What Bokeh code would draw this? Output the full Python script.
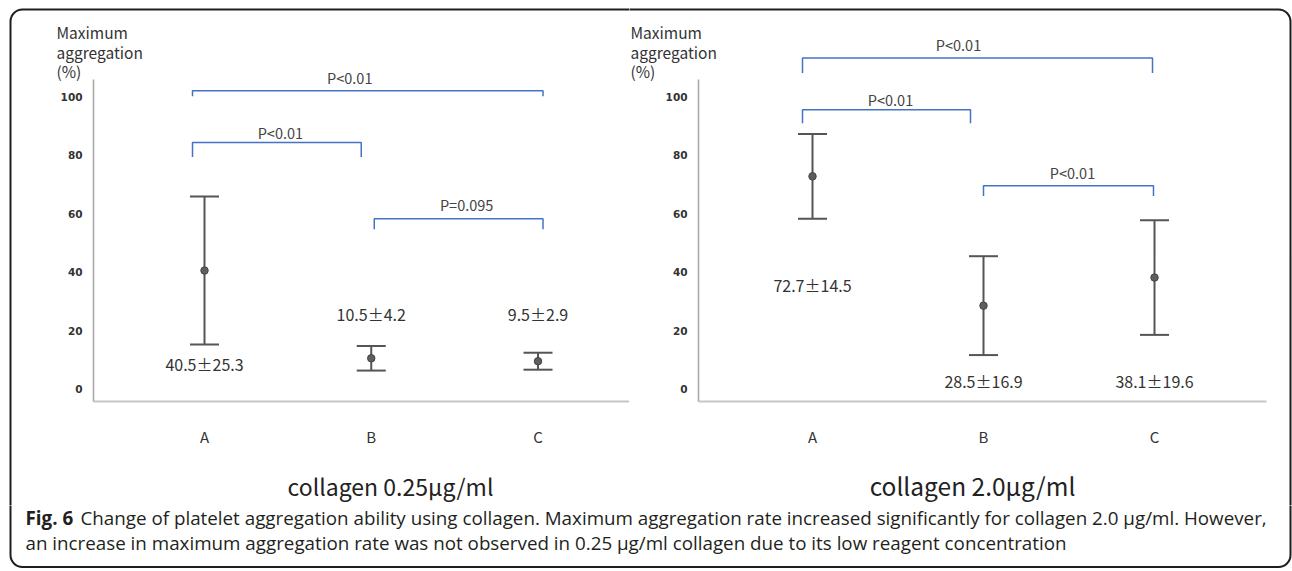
from bokeh.plotting import figure
from bokeh.layouts import column, row
from bokeh.models import (Range1d, FixedTicker, Label, Whisker, TeeHead,
                          ColumnDataSource, BoxAnnotation)
from bokeh.embed import file_html
from bokeh.resources import INLINE
from bokeh.core.properties import value

# ---------------- data ----------------
categories = ["A", "B", "C"]
low_means = [40.5, 10.5, 9.5]          # collagen 0.25 ug/ml
low_sds = [25.3, 4.2, 2.9]
high_means = [72.7, 28.5, 38.1]        # collagen 2.0 ug/ml
high_sds = [14.5, 16.9, 19.6]
y_ticks = [0, 20, 40, 60, 80, 100]
y_title_lines = ["Maximum", "aggregation", "(%)"]
low_title = "collagen 0.25μg/ml"
high_title = "collagen 2.0μg/ml"
low_pairs = [("A", "C"), ("A", "B"), ("B", "C")]
low_pvalues = ["P<0.01", "P<0.01", "P=0.095"]
low_bracket_levels = [102.0, 84.3, 58.2]
high_pairs = [("A", "C"), ("A", "B"), ("B", "C")]
high_pvalues = ["P<0.01", "P<0.01", "P<0.01"]
high_bracket_levels = [113.2, 95.5, 69.5]
low_value_label_y = [8.7, 25.8, 25.8]
high_value_label_y = [35.6, 2.9, 2.9]
caption_bold = "Fig. 6"
caption_lines = [
    "Change of platelet aggregation ability using collagen. Maximum aggregation rate increased significantly for collagen 2.0 μg/ml. However,",
    "an increase in maximum aggregation rate was not observed in 0.25 μg/ml collagen due to its low reagent concentration",
]

# ---------------- layout / style ----------------
FONT = "Noto Sans CJK JP"
PX_PER_UNIT = 2.925
ZERO_PX = 388.5
AXIS_TOP, AXIS_BOTTOM = 79, 401
PANEL_H = 505
BORDER_COLOR = "#1e1e1e"
BAR_COLOR = "#555555"
BRACKET_COLOR = "#4472C4"

low_spec = dict(canvas_left=0, canvas_w=629, frame_left=93, frame_right=633, first_px=204,
                spacing=166.75,
                drops=[5.5, 14.5, 10.4], end_off=[(-12, 5), (-12, -10), (3, 5)],
                lab_dx=[-18, 3.5, 8], lab_dy=[13, 10.3, 14],
                ytitle_px=56, sub_px=390, sub_size="23px", border=(10, 3000))
high_spec = dict(canvas_left=629, canvas_w=663, frame_left=698, frame_right=1266, first_px=812,
                 spacing=171,
                 drops=[15, 13.7, 10.4], end_off=[(-10, -2), (-10, -13), (0, -1)],
                 lab_dx=[-19, 4, 4], lab_dy=[13.2, 10.6, 13.3],
                 ytitle_px=630, sub_px=972, sub_size="24.5px", border=(-2000, 1290))


def make_panel(means, sds, pairs, pvalues, levels, label_y, title, s):
    cl, cw, fl, fr, sp = s["canvas_left"], s["canvas_w"], s["frame_left"], s["frame_right"], s["spacing"]

    def xd(px):  # page pixel -> category axis value
        return 1 + (px - s["first_px"]) / sp

    def yd(py):  # page pixel -> aggregation value
        return (ZERO_PX - py) / PX_PER_UNIT

    p = figure(width=cw, height=PANEL_H,
               x_range=Range1d(xd(cl), xd(cl + cw)),
               y_range=Range1d(yd(PANEL_H), yd(0)),
               output_backend="svg", toolbar_location=None, min_border=0)
    p.title.visible = False
    p.grid.visible = False
    p.outline_line_color = None
    p.background_fill_color = "white"
    p.border_fill_color = "white"

    xpos = [i + 1 for i in range(len(categories))]

    # y axis (fixed inside the frame)
    ya = p.yaxis[0]
    ya.fixed_location = xd(fl)
    ya.ticker = FixedTicker(ticks=y_ticks)
    ya.bounds = (yd(AXIS_BOTTOM), yd(AXIS_TOP))
    ya.axis_line_color = "#a9a9a9"
    ya.axis_line_width = 1.6
    ya.major_tick_line_color = None
    ya.minor_tick_line_color = None
    ya.major_label_text_font = "DejaVu Sans"
    ya.major_label_text_font_style = "bold"
    ya.major_label_text_font_size = "10.5px"
    ya.major_label_text_color = "#333333"
    ya.major_label_standoff = 5

    # x axis (fixed inside the frame)
    xa = p.xaxis[0]
    xa.fixed_location = yd(AXIS_BOTTOM)
    xa.bounds = (xd(fl), xd(fr))
    xa.ticker = FixedTicker(ticks=xpos)
    xa.major_label_overrides = {x: c for x, c in zip(xpos, categories)}
    xa.axis_line_color = "#c6c6c6"
    xa.axis_line_width = 2
    xa.major_tick_line_color = None
    xa.minor_tick_line_color = None
    xa.major_label_text_font = FONT
    xa.major_label_text_font_size = "15px"
    xa.major_label_text_color = "#333333"
    xa.major_label_standoff = 18

    # error bars
    src = ColumnDataSource(dict(
        x=xpos, mean=means,
        upper=[m + d for m, d in zip(means, sds)],
        lower=[m - d for m, d in zip(means, sds)],
    ))
    w = Whisker(source=src, base="x", upper="upper", lower="lower",
                line_color=BAR_COLOR, line_width=2,
                upper_head=TeeHead(size=29, line_color=BAR_COLOR, line_width=2),
                lower_head=TeeHead(size=29, line_color=BAR_COLOR, line_width=2))
    p.add_layout(w)
    p.scatter("x", "mean", source=src, size=7.5, fill_color="#5e5e5e", line_color="#444444", line_width=1)

    # value labels
    p.text(x=xpos, y=label_y, text=[f"{m}±{d}" for m, d in zip(means, sds)],
           text_font=value(FONT), text_font_size="16px", text_color="#333333",
           text_align="center", text_baseline="middle")

    # significance brackets
    bxs, bys, lx, ly = [], [], [], []
    for (a, b), lev, drop, (oa, ob), dx, dy in zip(pairs, levels, s["drops"], s["end_off"],
                                                   s["lab_dx"], s["lab_dy"]):
        x0 = xpos[categories.index(a)] + oa / sp
        x1 = xpos[categories.index(b)] + ob / sp
        low = lev - drop / PX_PER_UNIT
        bxs.append([x0, x0, x1, x1])
        bys.append([low, lev, lev, low])
        lx.append((x0 + x1) / 2 + dx / sp)
        ly.append(lev + dy / PX_PER_UNIT)
    p.multi_line(xs=bxs, ys=bys, line_color=BRACKET_COLOR, line_width=1.5)
    p.text(x=lx, y=ly, text=pvalues, text_font=value(FONT), text_font_size="14.5px",
           text_color="#444444", text_align="center", text_baseline="middle")

    # y axis title (three lines)
    for py, line in zip([31, 51, 70], y_title_lines):
        p.add_layout(Label(x=xd(s["ytitle_px"]), y=yd(py), text=line,
                           text_font=FONT, text_font_size="15.5px", text_color="#333333",
                           text_align="left", text_baseline="middle"))

    # panel subtitle
    p.add_layout(Label(x=xd(s["sub_px"]), y=yd(485), text=title, text_font=FONT,
                       text_font_size=s["sub_size"], text_color="#222222",
                       text_align="center", text_baseline="middle"))

    # outer rounded frame (upper part)
    bl, br = s["border"]
    p.add_layout(BoxAnnotation(left=xd(bl), right=xd(br), top=yd(9), bottom=yd(3000),
                               fill_alpha=0, line_color=BORDER_COLOR, line_alpha=1, line_width=2,
                               border_radius=12, level="overlay"))
    return p


p1 = make_panel(low_means, low_sds, low_pairs, low_pvalues, low_bracket_levels,
                low_value_label_y, low_title, low_spec)
p2 = make_panel(high_means, high_sds, high_pairs, high_pvalues, high_bracket_levels,
                high_value_label_y, high_title, high_spec)

# caption strip
p3 = figure(width=1292, height=571 - PANEL_H, x_range=Range1d(0, 1292), y_range=Range1d(571, PANEL_H),
            output_backend="svg", toolbar_location=None, min_border=0,
            x_axis_type=None, y_axis_type=None)
p3.grid.visible = False
p3.outline_line_color = None
p3.title.visible = False
p3.text(x=[25], y=[517], text=[caption_bold], text_font=value("Open Sans"), text_font_style="bold",
        text_font_size="18.8px", text_color="#231f20", text_baseline="middle")
p3.text(x=[80, 25], y=[517, 542], text=caption_lines, text_font=value("Open Sans"),
        text_font_size="18.8px", text_color="#231f20", text_baseline="middle")
p3.add_layout(BoxAnnotation(left=10, right=1290, top=-3000, bottom=566.5,
                            fill_alpha=0, line_color=BORDER_COLOR, line_alpha=1, line_width=2,
                            border_radius=12, level="overlay"))

layout = column(row(p1, p2), p3)
open("out.html", "w").write(file_html(layout, INLINE))
